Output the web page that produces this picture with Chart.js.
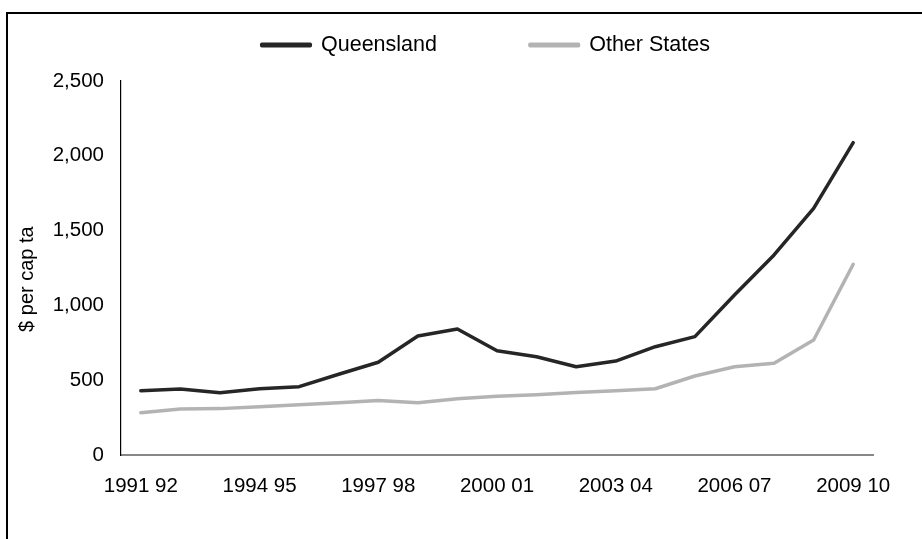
<!DOCTYPE html>
<html>
<head>
<meta charset="utf-8">
<script src="https://cdn.jsdelivr.net/npm/chart.js@4.4.1/dist/chart.umd.min.js"></script>
<style>
  html, body { margin: 0; padding: 0; background: #fff; }
  #wrap { position: relative; width: 922px; height: 539px; }
</style>
</head>
<body>
<div id="wrap"><canvas id="c" width="922" height="539"></canvas></div>
<script>
// Financial years, 1991–92 to 2009–10
const years = [
  '1991 92', '1992 93', '1993 94', '1994 95', '1995 96', '1996 97', '1997 98',
  '1998 99', '1999 00', '2000 01', '2001 02', '2002 03', '2003 04', '2004 05',
  '2005 06', '2006 07', '2007 08', '2008 09', '2009 10'
];
// Only every third year is labelled on the axis
const shownYears = ['1991 92', '1994 95', '1997 98', '2000 01', '2003 04', '2006 07', '2009 10'];

// $ per capita
const queensland = [430, 441, 416, 443, 457, 540, 620, 795, 842, 697, 657, 590, 628, 724, 791, 1070, 1337, 1649, 2088];
const otherStates = [283, 307, 310, 323, 336, 350, 365, 350, 376, 392, 403, 417, 430, 443, 528, 590, 613, 769, 1275];

const yTicks = [0, 500, 1000, 1500, 2000, 2500];

const FONT = 'Liberation Sans, Arial, sans-serif';

// Frame around the figure: top and left edges only
const framePlugin = {
  id: 'frame',
  afterDraw(chart) {
    const ctx = chart.ctx;
    ctx.save();
    ctx.strokeStyle = '#000';
    ctx.lineWidth = 2;
    ctx.beginPath();
    ctx.moveTo(7, 560);
    ctx.lineTo(7, 13);
    ctx.lineTo(930, 13);
    ctx.stroke();
    ctx.restore();
  }
};

// Legend sits above the plot, a little right of the canvas centre
const LEGEND_LEFT = 261.75;
const LEGEND_MID_Y = 45;
const legendPlace = {
  id: 'legendPlace',
  afterLayout(chart) {
    const lg = chart.legend;
    if (!lg) return;
    const pad = lg.options.labels.padding;
    const fs = lg.options.labels.font.size;
    const dx = LEGEND_LEFT - (lg.left + pad);
    const dy = LEGEND_MID_Y - (lg.top + pad + fs / 2);
    lg.left += dx; lg.right += dx;
    lg.top += dy; lg.bottom += dy;
  }
};

new Chart(document.getElementById('c'), {
  type: 'line',
  data: {
    labels: years,
    datasets: [
      {
        label: 'Queensland',
        data: queensland,
        borderColor: '#262626',
        backgroundColor: '#262626',
        borderWidth: 3.5,
        pointRadius: 0,
        tension: 0,
        borderJoinStyle: 'round',
        borderCapStyle: 'round'
      },
      {
        label: 'Other States',
        data: otherStates,
        borderColor: '#b3b3b3',
        backgroundColor: '#b3b3b3',
        borderWidth: 3.5,
        pointRadius: 0,
        tension: 0,
        borderJoinStyle: 'round',
        borderCapStyle: 'round'
      }
    ]
  },
  options: {
    responsive: false,
    animation: false,
    layout: { padding: { top: -43.5, right: 49, left: 0, bottom: 0 } },
    plugins: {
      tooltip: { enabled: false },
      legend: {
        position: 'top',
        align: 'start',
        labels: {
          color: '#000',
          font: { family: FONT, size: 21.5 },
          boxWidth: 48.5,
          boxHeight: 1.5,
          padding: 93
        }
      }
    },
    scales: {
      x: {
        offset: true,
        grid: { display: false, drawTicks: false },
        border: { display: true, color: '#878787', width: 2 },
        ticks: {
          color: '#000',
          font: { family: FONT, size: 20.5 },
          autoSkip: false,
          maxRotation: 0,
          padding: 19,
          callback: function (v, i) {
            const lab = years[i];
            return shownYears.includes(lab) ? lab : '';
          }
        },
        afterFit(scale) { scale.height = 84; }
      },
      y: {
        min: 0,
        max: 2500,
        grid: { display: false, drawTicks: false },
        border: { display: true, color: '#000', width: 1.2 },
        afterBuildTicks(scale) { scale.ticks = yTicks.map(v => ({ value: v })); },
        ticks: {
          color: '#000',
          font: { family: FONT, size: 20.5 },
          padding: 17,
          callback: v => v.toLocaleString('en-US')
        },
        title: {
          display: true,
          // trailing spaces nudge the rotated title slightly below the axis centre
          text: '$ per cap ta    ',
          color: '#000',
          font: { family: FONT, size: 20 },
          padding: { top: 15, bottom: 0 }
        },
        afterFit(scale) { scale.width = 121; }
      }
    }
  },
  plugins: [framePlugin, legendPlace]
});
</script>
</body>
</html>
